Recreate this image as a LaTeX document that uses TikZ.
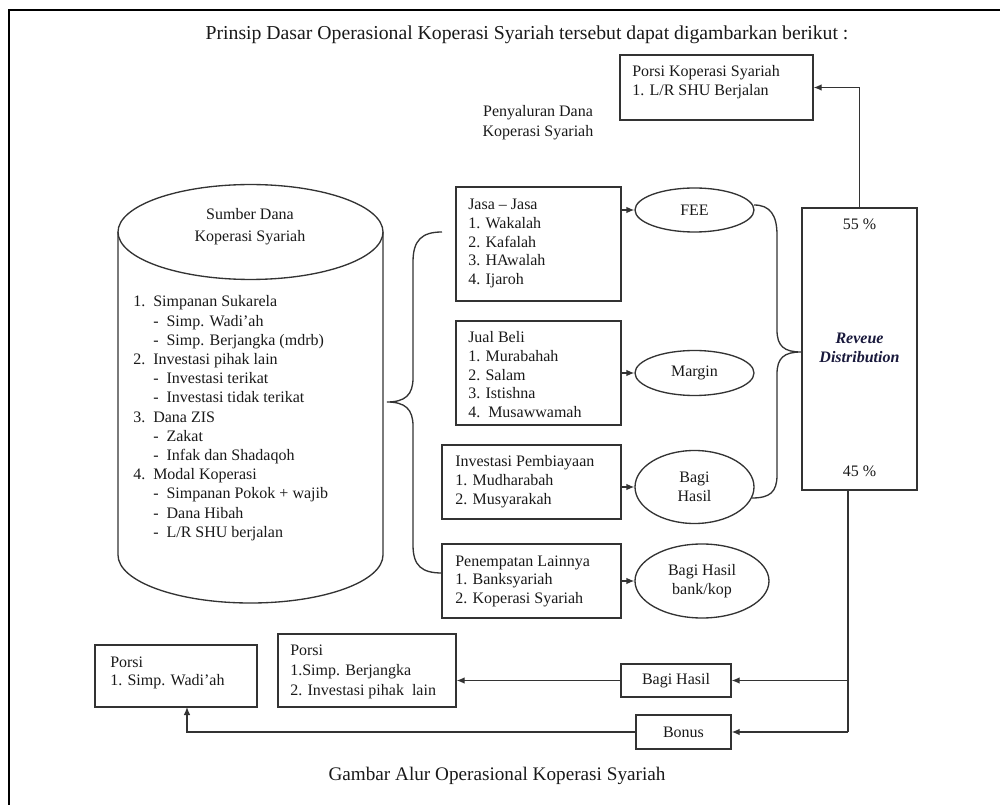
\documentclass[tikz,border=0pt]{standalone}
\usepackage{fontspec}
\setmainfont{Liberation Serif}
\usetikzlibrary{arrows.meta,shapes.geometric,fit,calc}
\newcommand{\myL}[1]{\begin{tabular}[t]{@{}l@{}}#1\end{tabular}}
\newcommand{\myC}[1]{\begin{tabular}[t]{@{}c@{}}#1\end{tabular}}
\begin{document}
\begin{tikzpicture}[x=0.75pt,y=-0.75pt,
  ln/.style={draw=black!80,line width=1pt},
  arr/.style={ln,-{Latex[length=6pt,width=5pt]}},
  box/.style={ln,rectangle,inner sep=0pt},
  ell/.style={ln,ellipse,inner sep=0pt,align=center,font=\fontsize{12}{14}\selectfont,text=black!90},
  txt/.style={inner sep=0pt,font=\fontsize{12}{14}\selectfont,text=black!90},
  big/.style={inner sep=0pt,font=\fontsize{14.8}{16}\selectfont,text=black!90},
]
\useasboundingbox (0,0) rectangle (1000,805);
% page frame
\draw[line width=1.5pt] (9,805) -- (9,10) -- (1000,10);

% title and caption
\node[big,anchor=base] (title) at (527,40) {Prinsip Dasar Operasional Koperasi Syariah tersebut dapat digambarkan berikut :};
\node[big,font=\fontsize{14.4}{16}\selectfont,anchor=base] (caption) at (497,780) {Gambar Alur Operasional Koperasi Syariah};

% cylinder
\draw[ln] (250.5,232) ellipse [x radius=99.375pt, y radius=35.6pt];
\draw[ln] (383,232) -- (383,555) arc[start angle=0, end angle=-180, x radius=99.375pt, y radius=36pt] -- (118,232);
\node[txt,anchor=base] (sumberT) at (250,220) {\myC{Sumber Dana\\[2pt]Koperasi Syariah}};
\node[txt,anchor=base west,font=\fontsize{12}{14.4}\selectfont] (listT) at (133,307) {\myL{%
\makebox[15pt][l]{1.}Simpanan Sukarela\\
\hspace{15pt}\makebox[10pt][l]{-}Simp. Wadi’ah\\
\hspace{15pt}\makebox[10pt][l]{-}Simp. Berjangka (mdrb)\\
\makebox[15pt][l]{2.}Investasi pihak lain\\
\hspace{15pt}\makebox[10pt][l]{-}Investasi terikat\\
\hspace{15pt}\makebox[10pt][l]{-}Investasi tidak terikat\\
\makebox[15pt][l]{3.}Dana ZIS\\
\hspace{15pt}\makebox[10pt][l]{-}Zakat\\
\hspace{15pt}\makebox[10pt][l]{-}Infak dan Shadaqoh\\
\makebox[15pt][l]{4.}Modal Koperasi\\
\hspace{15pt}\makebox[10pt][l]{-}Simpanan Pokok + wajib\\
\hspace{15pt}\makebox[10pt][l]{-}Dana Hibah\\
\hspace{15pt}\makebox[10pt][l]{-}L/R SHU berjalan}};

% left brace
\draw[ln] (442,232) .. controls (422,232) and (413,240) .. (413,262) -- (413,378)
  .. controls (413,395) and (405,402) .. (387,402)
  .. controls (405,402) and (413,409) .. (413,426) -- (413,545)
  .. controls (413,566) and (422,573) .. (442,573);

\node[txt,anchor=base] (penyT) at (538,117) {\myC{Penyaluran Dana\\[1pt]Koperasi Syariah}};

% boxes
\node[box,fit={(456,187) (621,301)}] (jasa) {};
\node[txt,anchor=base west] (jasaT) at (468,210) {\myL{Jasa – Jasa\\1. Wakalah\\2. Kafalah\\3. HAwalah\\4. Ijaroh}};
\node[box,fit={(456,321) (621,425)}] (jual) {};
\node[txt,anchor=base west] (jualT) at (468,343) {\myL{Jual Beli\\1. Murabahah\\2. Salam\\3. Istishna\\4.\ \ Musawwamah}};
\node[box,fit={(442,445) (621,519)}] (inv) {};
\node[txt,anchor=base west] (invT) at (455,467) {\myL{Investasi Pembiayaan\\1. Mudharabah\\2. Musyarakah}};
\node[box,fit={(442,544) (621,618)}] (pen) {};
\node[txt,anchor=base west] (penT) at (455,566) {\myL{Penempatan Lainnya\\1. Banksyariah\\2. Koperasi Syariah}};

% ellipses
\node[ell,minimum width=89.25pt,minimum height=33pt] (fee) at (694.5,210) {FEE};
\node[ell,minimum width=89.25pt,minimum height=33.75pt] (margin) at (694.5,373) {Margin};
\node[ell,minimum width=89.25pt,minimum height=54.75pt] (bagi) at (694.5,487) {Bagi\\Hasil};
\node[ell,minimum width=100.5pt,minimum height=55.5pt] (bank) at (702,581) {Bagi Hasil\\bank/kop};

\draw[arr] (fee.west -| jasa.east) -- (fee.west);
\draw[arr] (margin.west -| jual.east) -- (margin.west);
\draw[arr] (bagi.west -| inv.east) -- (bagi.west);
\draw[arr] (bank.west -| pen.east) -- (bank.west);

% right brace
\draw[ln] (754,205) .. controls (770,205) and (777,215) .. (777,235) -- (777,330)
  .. controls (777,346) and (784,352) .. (801,352)
  .. controls (784,352) and (777,358) .. (777,374) -- (777,475)
  .. controls (777,492) and (770,498) .. (752,498);

% revenue distribution
\node[box,fit={(802,208) (917,490)}] (rd) {};
\node[txt,anchor=base] (p55) at (859.5,230) {55 \%};
\node[txt,anchor=base,font=\fontsize{12}{14}\selectfont\bfseries\itshape,text={rgb,255:red,25;green,25;blue,60}] (rdT) at (859.5,344) {\myC{Reveue\\Distribution}};
\node[txt,anchor=base] (p45) at (859.5,477) {45 \%};

% porsi koperasi
\node[box,fit={(620,55) (813,120)}] (porsiK) {};
\node[txt,anchor=base west] (porsiKT) at (632,77) {\myL{Porsi Koperasi Syariah\\1. L/R SHU Berjalan}};
\draw[arr] (rd.north) |- (porsiK.east);

% bottom boxes
\node[box,fit={(621,664) (731,697)}] (bh) {};
\node[txt] (bhT) at (bh.center) {Bagi Hasil};
\node[box,fit={(636,715) (731,749)}] (bonus) {};
\node[txt] (bonusT) at (bonus.center) {Bonus};
\node[box,fit={(278,634) (456,707)}] (porsi2) {};
\node[txt,anchor=base west] (porsi2T) at (290,655) {\myL{Porsi\\[1pt]1.Simp. Berjangka\\[1pt]2. Investasi pihak\ \ lain}};
\node[box,fit={(95,645) (257,707)}] (porsi1) {};
\node[txt,anchor=base west] (porsi1T) at (110,667) {\myL{Porsi\\1. Simp. Wadi’ah}};

\coordinate (rdB) at (848,490);
\coordinate (p1in) at (187,707);
\draw[ln] (rdB) -- (rdB |- bonus.east);
\draw[arr] (rdB |- bonus.east) -- (bonus.east);
\draw[arr] (rdB |- bh.east) -- (bh.east);
\draw[arr] (bh.west) -- (bh.west -| porsi2.east);
\draw[arr] (bonus.west) -| (p1in);
\end{tikzpicture}
\end{document}
